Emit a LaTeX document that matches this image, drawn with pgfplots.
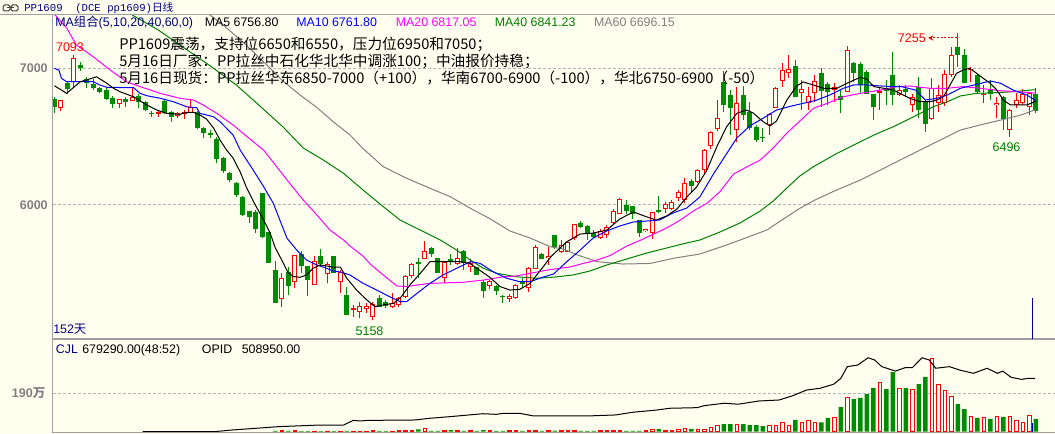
\documentclass[border=0pt]{standalone}
\usepackage{pgfplots}
\pgfplotsset{compat=1.18}
\usepackage{pgfplotstable}
\usetikzlibrary{arrows.meta}
\usepackage{fontspec}
\setmainfont{Liberation Sans}
\newfontfamily\cjk{Noto Sans CJK SC}
\newfontfamily\monof{Liberation Mono}
\definecolor{bg}{RGB}{255,255,240}
\definecolor{cred}{RGB}{255,0,0}
\definecolor{cgreen}{RGB}{0,140,0}
\definecolor{mablue}{RGB}{0,0,255}
\definecolor{mamag}{RGB}{255,0,255}
\definecolor{maforty}{RGB}{0,128,0}
\definecolor{masixty}{RGB}{128,128,128}
\definecolor{navy}{RGB}{0,0,128}
\definecolor{labgray}{RGB}{128,128,128}
\definecolor{gridgray}{RGB}{180,180,180}
\definecolor{framegray}{RGB}{160,160,160}
\definecolor{cursorblue}{RGB}{0,0,160}

\pgfplotstableread{
i O H L C
1 6706 6764 6688 6764
3 6900 7093 6864 7071
10 6737 6772 6706 6772
12 6759 6852 6759 6790
16 6666 6688 6645 6677
19 6652 6681 6633 6669
20 6666 6693 6628 6677
21 6669 6774 6669 6718
35 5312 5506 5253 5465
37 5440 5635 5392 5635
40 5416 5628 5416 5591
42 5496 5586 5428 5569
44 5436 5525 5360 5511
46 5236 5270 5185 5246
47 5221 5290 5173 5263
48 5239 5282 5214 5263
49 5185 5294 5158 5277
52 5258 5360 5246 5287
53 5270 5331 5253 5323
54 5331 5489 5319 5482
55 5482 5579 5465 5567
57 5604 5739 5604 5664
60 5469 5582 5433 5582
62 5569 5684 5562 5611
64 5545 5606 5513 5574
67 5411 5452 5385 5447
70 5312 5350 5294 5336
71 5319 5421 5314 5416
73 5396 5545 5367 5538
74 5531 5708 5531 5695
76 5611 5696 5562 5628
78 5657 5744 5647 5708
79 5659 5732 5659 5728
80 5759 5861 5744 5861
84 5757 5825 5750 5808
85 5781 5854 5761 5836
86 5871 5971 5861 5954
87 5931 6053 5931 6042
91 5808 5828 5803 5825
92 5799 5951 5750 5949
94 5971 6024 5939 6007
95 5974 6040 5960 6020
96 6051 6109 6029 6095
97 6036 6197 6012 6158
99 6168 6266 6161 6259
100 6255 6406 6231 6401
101 6428 6540 6406 6531
102 6552 6766 6540 6633
105 6547 6864 6462 6742
110 6584 6669 6511 6662
111 6710 6861 6710 6856
112 6905 7034 6864 6985
113 6961 7095 6925 6991
115 6820 6912 6693 6847
116 6742 6864 6693 6798
117 6820 6949 6754 6907
120 6836 6888 6754 6864
122 6827 7161 6827 7131
127 6820 6864 6693 6834
130 6803 6876 6799 6839
132 6728 6810 6681 6786
135 6626 6925 6620 6852
136 6747 6876 6681 6803
137 6747 6985 6723 6954
138 6949 7156 6937 7095
141 6982 7010 6900 6991
143 6801 6876 6742 6810
145 6730 6790 6633 6747
147 6547 6698 6496 6693
148 6728 6815 6706 6766
149 6742 6845 6730 6810
150 6713 6820 6657 6820
}\redc

\pgfplotstableread{
i O H L C
0 6774 6790 6669 6718
2 6887 6900 6810 6850
4 7022 7042 6980 6998
5 6920 6937 6852 6894
6 6883 6918 6839 6852
7 6856 6864 6820 6827
8 6839 6852 6766 6774
9 6783 6798 6706 6737
11 6774 6790 6718 6750
13 6796 6810 6706 6754
14 6750 6759 6686 6693
15 6674 6688 6645 6662
17 6759 6766 6662 6669
18 6677 6686 6608 6645
22 6677 6686 6555 6560
23 6560 6572 6487 6523
24 6523 6547 6487 6511
25 6482 6496 6304 6336
26 6343 6350 6237 6250
27 6236 6243 6170 6182
28 6158 6170 6061 6073
29 6061 6066 5922 5927
30 5956 5956 5866 5915
31 5949 5963 5793 5822
32 6087 6090 5760 5766
33 5805 5805 5579 5579
34 5525 5591 5287 5287
36 5509 5550 5343 5409
38 5642 5664 5501 5555
39 5555 5555 5338 5452
41 5628 5679 5550 5567
43 5628 5628 5506 5506
45 5343 5404 5194 5194
50 5319 5343 5253 5258
51 5294 5306 5246 5265
56 5584 5611 5465 5567
58 5684 5696 5623 5642
59 5611 5615 5506 5506
61 5604 5640 5562 5593
63 5664 5671 5525 5574
65 5550 5550 5489 5489
66 5436 5452 5323 5374
68 5409 5416 5343 5374
69 5336 5343 5287 5326
72 5436 5465 5404 5421
75 5642 5650 5604 5604
77 5781 5781 5679 5693
81 5872 5880 5832 5841
82 5850 5854 5744 5788
83 5793 5817 5757 5766
88 5998 6036 5934 5954
89 5989 5993 5898 5934
90 5887 5890 5766 5799
93 5963 6066 5939 5949
98 6175 6187 6091 6142
103 6900 6978 6681 6730
104 6803 6839 6511 6706
106 6803 6865 6620 6657
107 6681 6754 6547 6560
108 6572 6584 6462 6474
109 6498 6560 6462 6487
114 7015 7058 6786 6791
118 6966 6998 6718 6834
119 6883 6900 6730 6827
121 6799 6839 6669 6770
123 7039 7046 6900 6966
124 7027 7046 6815 6876
125 6973 6985 6810 6810
126 6810 6810 6620 6715
128 6852 6912 6730 6834
129 6949 7119 6730 6803
131 6845 6876 6791 6827
133 6864 6932 6633 6693
134 6754 6766 6535 6589
139 7156 7255 7010 7095
140 7095 7137 6888 6893
142 6949 6956 6817 6823
144 6845 6912 6766 6810
146 6790 6796 6547 6628
151 6810 6852 6674 6688
}\greenc

\pgfplotstableread{
i v
34 4
36 4
38 3
39 3
41 3
43 3
45 4
50 4
51 4
56 11
58 4
59 4
61 8
63 4
65 4
66 8
68 4
69 4
72 4
75 4
77 5
81 4
82 4
83 4
88 4
89 4
90 4
93 13
98 13
103 38
104 38
106 38
107 33
108 33
109 28
114 58
118 46
119 68
121 122
123 162
124 167
125 186
126 216
128 211
129 295
131 216
133 236
134 271
139 137
140 112
142 68
144 63
146 73
151 63
}\volg

\pgfplotstableread{
i v
35 4
37 4
40 3
42 3
44 3
46 3
47 3
48 3
49 4
52 3
53 4
54 4
55 5
57 16
60 4
62 4
64 4
67 4
70 4
71 5
73 5
74 6
76 6
78 4
79 4
80 6
84 4
85 4
86 5
87 6
91 7
92 12
94 7
95 7
96 12
97 16
99 12
100 12
101 21
102 33
105 36
110 33
111 33
112 46
113 33
115 46
116 56
117 46
120 68
122 170
127 244
130 216
132 211
135 363
136 234
137 206
138 175
141 76
143 68
145 73
147 73
148 56
149 46
150 81
}\volr

\pgfplotsset{
  wick/.style={forget plot, only marks, mark=*, mark size=0pt, mark options={draw=none, fill=none},
    error bars/.cd, y dir=plus, y explicit, error mark=none,
    error bar style={draw=#1, line width=0.75pt, solid}},
  body/.style 2 args={forget plot, only marks, mark=*, mark size=0pt, mark options={draw=none, fill=none},
    error bars/.cd, y dir=plus, y explicit, error mark=none,
    error bar style={draw=#1, line width=#2, solid}},
}

\begin{document}
\begin{tikzpicture}
\useasboundingbox (0,0) rectangle (791.25pt,-325.5pt);
\fill[bg] (0,0) rectangle (791.25pt,-325.5pt);

% ---------------- main price panel ----------------
\begin{axis}[
  at={(39.375pt,-253.5pt)}, anchor=south west,
  scale only axis, width=751.875pt, height=242.25pt,
  xmin=-0.277, xmax=153.95, ymin=5029, ymax=7387,
  axis line style={draw=none},
  xtick=\empty, ytick={6000,7000}, yticklabels={6000,7000},
  tick style={draw=none}, major tick length=0pt,
  yticklabel style={font=\fontsize{9.4}{10}\selectfont\bfseries, text=labgray, anchor=east, inner sep=0pt, xshift=-3.4pt},
  ymajorgrids, grid style={gridgray, dash pattern=on 2.25pt off 1.5pt, line width=0.75pt},
]
\addplot[wick=cred] table[x=i, y=L, y error expr={\thisrow{H}-\thisrow{L}}] {\redc};
\addplot[wick=cgreen] table[x=i, y=L, y error expr={\thisrow{H}-\thisrow{L}}] {\greenc};
\addplot[body={cgreen}{3.75pt}] table[x=i, y=C, y error expr={max(\thisrow{O}-\thisrow{C},7.3)}] {\greenc};
\addplot[body={cred}{3.75pt}] table[x=i, y=O, y error expr={max(\thisrow{C}-\thisrow{O},7.3)}] {\redc};
\addplot[body={bg}{2.25pt}] table[x=i, y expr={\thisrow{O}+7.3}, y error expr={max(\thisrow{C}-\thisrow{O}-14.6,0)}] {\redc};

% MA60
\addplot[masixty, line width=0.75pt, mark=none] coordinates {
(23.5,7402) (26,7314) (29.5,7168) (32.7,7022) (35,6912) (37.8,6803) (40.5,6708) (42.9,6608) (45.5,6511) (47.4,6416) (50.6,6280) (54.2,6195) (57.8,6122) (60.9,6061) (64,5976) (67.1,5898) (70.1,5810) (73.2,5759) (76.3,5695) (78.3,5679) (80.5,5635) (83.5,5586) (87.5,5569) (91.6,5573) (95.5,5613) (99.3,5642) (103,5701) (105.5,5744) (109.6,5817) (112.7,5914) (114.7,5976) (117,6036) (120,6102) (124,6182) (127.1,6255) (130.1,6328) (133.2,6401) (136.3,6474) (139.4,6547) (142.4,6584) (145.6,6620) (148.7,6657) (151,6696)};
% MA40
\addplot[maforty, line width=0.75pt, mark=none] coordinates {
(12,7387) (16,7277) (20,7146) (24,7015) (28,6876) (31.1,6745) (35.2,6569) (38.3,6416) (41.4,6328) (44.5,6231) (47.5,6109) (50.6,5988) (53.2,5890) (56.3,5817) (59.4,5744) (61.9,5671) (64,5598) (66,5538) (68.1,5501) (71.1,5476) (74.2,5465) (77,5474) (79.8,5489) (82.4,5518) (85,5562) (88.1,5606) (91.1,5649) (94.2,5686) (97.3,5723) (99.3,5744) (102.4,5803) (105.5,5869) (108.6,5956) (110.6,6029) (112.7,6124) (114.7,6212) (116.8,6280) (120.4,6377) (123.5,6450) (126.1,6511) (129.1,6572) (132.2,6644) (135.2,6717) (137.4,6754) (139.4,6796) (141.9,6815) (145,6820) (147.5,6827) (151,6842)};
% MA20
\addplot[mamag, line width=0.75pt, mark=none] coordinates {
(0,7394) (1.9,7292) (3.4,7168) (6,7082) (8.6,6985) (11.1,6900) (13.2,6864) (16.3,6815) (19.3,6779) (21.4,6766) (22.9,6730) (25,6669) (27.5,6584) (30.6,6462) (32.2,6401) (34.2,6280) (36.3,6153) (38.3,6036) (40.4,5927) (42.4,5817) (44.5,5744) (45.5,5700) (47.5,5627) (48.6,5569) (50.6,5489) (52.7,5409) (54.2,5404) (55.8,5416) (57.8,5428) (59.9,5431) (62.9,5436) (66,5452) (69.1,5476) (71.1,5482) (73.2,5501) (76.3,5529) (79.3,5547) (81.4,5574) (83.5,5598) (85.5,5631) (88.1,5701) (90.1,5741) (92.2,5788) (94.2,5832) (96.3,5890) (98.3,5956) (100.4,6012) (102.4,6097) (104.5,6226) (106.5,6277) (108.6,6328) (110.6,6416) (112.7,6525) (114.7,6613) (116.8,6706) (118.9,6742) (121.4,6790) (124,6815) (127.1,6839) (129.6,6864) (131.6,6869) (134.7,6852) (137.4,6852) (139.8,6864) (142.4,6852) (145.6,6834) (148.7,6825) (151,6817)};
% MA10
\addplot[mablue, line width=0.75pt, mark=none] coordinates {
(0,6998) (0.7,6985) (1.1,6925) (1.9,6900) (4,6900) (6,6900) (7,6876) (8.1,6859) (12.2,6856) (13.2,6815) (14.2,6798) (16.3,6779) (18.3,6754) (20.4,6717) (21.9,6710) (22.4,6669) (23.4,6657) (24.5,6644) (25.5,6608) (27.5,6511) (28.6,6401) (30.6,6255) (32.2,6134) (33.7,6012) (34.7,5890) (35.8,5757) (37.3,5671) (38.8,5598) (40.4,5562) (41.9,5538) (42.9,5518) (44,5511) (45.5,5489) (47.5,5428) (49.6,5379) (51.6,5330) (53.2,5294) (54.2,5294) (55.8,5355) (57.8,5428) (59.8,5489) (61.9,5538) (64,5586) (65.5,5574) (67.5,5513) (69.6,5465) (71.6,5440) (73.2,5440) (75.2,5474) (76.8,5496) (78.8,5584) (80.9,5671) (82.9,5759) (85,5810) (87,5847) (89.1,5876) (91.1,5883) (93.1,5890) (95.2,5942) (97.3,5978) (99.3,6058) (101.4,6226) (103,6343) (105,6489) (107,6577) (109.1,6635) (111.1,6693) (113.2,6720) (115.2,6742) (117.3,6766) (119.3,6803) (121.4,6852) (123,6876) (125,6876) (127.1,6869) (129.1,6864) (130.3,6864) (132.5,6839) (134,6766) (135.8,6779) (137.4,6803) (139.4,6852) (141.5,6876) (144,6905) (145.6,6888) (147.5,6839) (149.6,6803) (151,6762)};
% MA5
\addplot[black, line width=0.75pt, mark=none] coordinates {
(0,6871) (1.9,6815) (4,6900) (4.9,6912) (6.5,6936) (8.1,6888) (9.1,6852) (10.1,6827) (12.2,6790) (14.2,6730) (15.8,6693) (17.3,6669) (19.3,6662) (20.4,6677) (21.4,6677) (22.4,6657) (23.4,6628) (24.5,6562) (25.5,6474) (26.5,6401) (27.5,6343) (28.6,6241) (29.6,6124) (30.6,6029) (32.2,5890) (33.2,5795) (34,5686) (35,5598) (36,5503) (36.8,5478) (37.8,5472) (38.8,5489) (39.8,5538) (40.9,5562) (41.9,5555) (42.9,5545) (44,5547) (45,5465) (46.5,5379) (48.1,5306) (49.3,5258) (50.6,5270) (52.2,5282) (53.4,5331) (54.7,5416) (56.3,5501) (57.8,5586) (59.3,5586) (60.9,5586) (62.4,5586) (63.9,5574) (65.4,5525) (66.9,5476) (68.6,5404) (70.1,5379) (71.6,5384) (73.2,5428) (74.7,5518) (76.5,5628) (78.8,5730) (80.9,5788) (82.9,5795) (85,5817) (87,5898) (89.1,5949) (91.1,5914) (92.6,5890) (94.2,5920) (95.8,5971) (97.3,6058) (98.8,6131) (100.4,6255) (101.9,6423) (103.4,6569) (105,6669) (106.5,6693) (107.5,6672) (109.1,6606) (110.1,6577) (111.1,6613) (112.7,6766) (114.2,6869) (115.2,6898) (116.8,6876) (118.3,6852) (120.4,6852) (121.9,6888) (124,6932) (125,6918) (126.1,6864) (127.6,6852) (129.1,6839) (130.1,6815) (131.6,6779) (133.2,6754) (134.7,6754) (135.8,6766) (136.8,6791) (137.8,6876) (138.8,6961) (139.8,6985) (140.8,6998) (141.9,6961) (142.9,6925) (144,6888) (145,6839) (146,6766) (147.1,6730) (148.1,6730) (149.6,6730) (151,6757)};
\end{axis}

% ---------------- volume panel ----------------
\begin{axis}[
  at={(39.375pt,-324pt)}, anchor=south west,
  scale only axis, width=751.875pt, height=69.75pt,
  xmin=-0.277, xmax=153.95, ymin=-1.5, ymax=458.9,
  axis line style={draw=none},
  xtick=\empty, ytick={190}, yticklabels={190{\cjk\bfseries 万}},
  tick style={draw=none}, major tick length=0pt,
  yticklabel style={font=\fontsize{9.4}{10}\selectfont\bfseries, text=labgray, anchor=east, inner sep=0pt, xshift=-5.2pt},
  ymajorgrids, grid style={gridgray, dash pattern=on 2.25pt off 1.5pt, line width=0.75pt},
]
\addplot[ybar, bar width=3.4pt, bar shift=0pt, fill=cgreen, draw=none] table[x=i, y=v] {\volg};
\addplot[ybar, bar width=2.7pt, bar shift=0pt, fill=bg, draw=cred, line width=0.75pt] table[x=i, y=v] {\volr};
\addplot[black, line width=0.75pt, mark=none] coordinates {
(13.6,0) (24.6,0) (27.2,8) (34.5,25) (40.8,33) (44.5,33) (46,56) (47.1,53) (48.1,56) (55.5,58) (57.6,66) (60.7,74) (65.9,89) (68,86) (69.1,91) (71.6,91) (73.7,78) (82.1,78) (86.4,83) (88.9,96) (92.6,107) (94.7,116) (98.9,119) (100,129) (103.1,141) (105.2,136) (108.4,152) (111.5,157) (113.6,178) (115.7,206) (117.8,215) (119.9,235) (121,264) (122,322) (123.6,330) (125.2,366) (126.2,355) (127.3,322) (129.4,300) (130.9,317) (132,317) (133.5,366) (134.6,355) (135.6,314) (137.7,322) (139.3,305) (141.4,289) (143.5,314) (145.1,289) (145.9,300) (147.2,269) (148.8,259) (149.8,264) (150.9,264)};
\end{axis}

% ---------------- frame, text ----------------
\begin{scope}[x=0.75pt, y=-0.75pt]
\draw[framegray, line width=0.75pt] (0,15) -- (1055,15);
\draw[framegray, line width=0.75pt] (52,15) -- (52,433);
\draw[framegray, line width=1.1pt] (52,339) -- (1055,339);
\draw[framegray, line width=0.75pt] (52,432.5) -- (1055,432.5);
\draw[cursorblue, line width=0.75pt] (1032,298) -- (1032,338.5);
\draw[cursorblue, line width=0.75pt] (1032,423) -- (1032,432);

% title icon
\draw[black!75, line width=0.75pt, rounded corners=1.2pt] (3,5) rectangle (10,11);
\draw[black!75, line width=0.75pt, rounded corners=1.2pt] (11,5) rectangle (18,11);
\draw[black!75, line width=0.75pt] (7,8) -- (14,8);
\node[anchor=west, inner sep=0pt, text=navy, font=\monof\fontsize{8}{9}\selectfont] at (24,8) {PP1609};
\node[anchor=west, inner sep=0pt, text=navy, font=\monof\fontsize{8}{9}\selectfont] at (75,8) {(DCE pp1609){\cjk\fontsize{8}{9}\selectfont 日线}};

% MA legend
\begin{scope}[every node/.style={anchor=base west, inner sep=0pt, font=\fontsize{9.3}{10}\selectfont}]
\node[text=navy] at (55,27) {MA{\cjk 组合}(5,10,20,40,60,0)};
\node[text=black] at (204.5,27) {MA5 6756.80};
\node[text=mablue] at (296,27) {MA10 6761.80};
\node[text=mamag] at (395.5,27) {MA20 6817.05};
\node[text=maforty] at (494.6,27) {MA40 6841.23};
\node[text=masixty] at (593.8,27) {MA60 6696.15};
\end{scope}

% commentary
\begin{scope}[every node/.style={anchor=west, inner sep=0pt, font=\cjk\fontsize{11}{12}\selectfont}]
\node at (119,44) {PP1609震荡，支持位6650和6550，压力位6950和7050；};
\node at (119,61) {5月16日厂家：PP拉丝中石化华北华中调涨100；中油报价持稳；};
\node at (119,78) {5月16日现货：PP拉丝华东6850-7000（+100），华南6700-6900（-100），华北6750-6900（-50）};
\end{scope}

% extreme value labels
\begin{scope}[every node/.style={inner sep=0pt, font=\fontsize{9.4}{10}\selectfont}]
\node[text=cred] at (70,47) {7093};
\node[text=cred, anchor=east] at (926,38) {7255};
\node[text=maforty] at (369.5,331) {5158};
\node[text=maforty] at (1006.5,146.7) {6496};
\end{scope}
\draw[cred, line width=0.75pt, dash pattern=on 1.5pt off 1.2pt, -{Stealth[length=4pt,width=4pt]}] (957,38) -- (928,38);

\node[anchor=west, inner sep=0pt, text=navy, font=\fontsize{9.3}{10}\selectfont] at (53,329) {152{\cjk 天}};

% volume header
\begin{scope}[every node/.style={anchor=base west, inner sep=0pt, font=\fontsize{9.3}{10}\selectfont}]
\node[text=navy] at (55.7,353) {CJL};
\node at (82,353) {679290.00(48:52)};
\node at (201.7,353) {OPID};
\node at (241.5,353) {508950.00};
\end{scope}
\end{scope}
\end{tikzpicture}
\end{document}
